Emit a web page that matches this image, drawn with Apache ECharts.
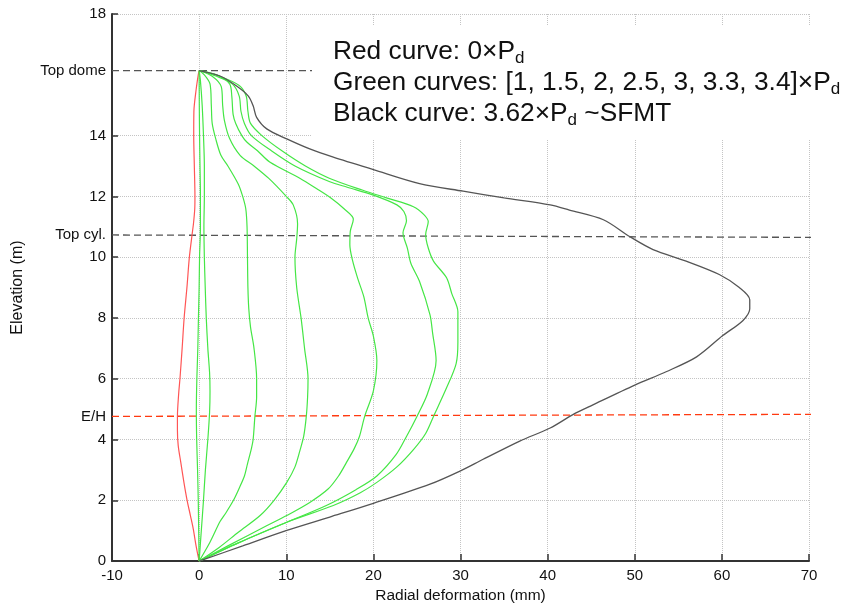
<!DOCTYPE html>
<html><head><meta charset="utf-8">
<script src="https://cdn.jsdelivr.net/npm/echarts@6/dist/echarts.min.js"></script>
<style>html,body{margin:0;padding:0;background:#fff}#c{width:846px;height:609px}</style>
</head><body><div id="c"></div>
<script>
// ---- data: [radial deformation (mm), elevation (m)] ----
const redCurve = [[0,0],[-0.35,0.5],[-0.68,1.07],[-1.0,1.5],[-1.38,2.0],[-1.75,2.6],[-2.1,3.24],[-2.4,3.8],[-2.49,4.3],[-2.49,4.76],[-2.35,5.5],[-2.2,6.0],[-1.95,7.0],[-1.72,8.0],[-1.4,9.0],[-1.12,10.0],[-0.8,10.76],[-0.65,11.1],[-0.5,11.6],[-0.48,12.0],[-0.55,13.0],[-0.62,14.0],[-0.6,14.8],[-0.35,15.5],[-0.1,16.0],[0,16.14]];
const green10 = [[0,0],[-0.05,1],[-0.1,2],[-0.18,3],[-0.28,4],[-0.32,5],[-0.26,6],[-0.15,7],[-0.08,8],[0,9],[0.05,10],[0.15,11],[0.15,12],[0.1,13],[0.05,14],[0.02,15],[0,16.14]];
const green15 = [[0,0],[0.25,1],[0.5,2],[0.72,3],[1.0,4],[1.2,4.9],[1.25,5.6],[1.2,6.2],[1.0,7],[0.82,8],[0.7,9],[0.6,10],[0.55,11],[0.6,12],[0.6,13],[0.5,14],[0.35,15],[0.15,15.8],[0,16.14]];
const green20 = [[0,0],[1.26,0.63],[2.4,1.3],[3.1,1.6],[3.94,2.0],[4.6,2.4],[5.2,2.8],[5.55,3.2],[6.0,3.7],[6.2,4.0],[6.4,4.76],[6.6,5.4],[6.6,6.0],[6.3,7.0],[5.9,7.7],[5.7,8.3],[5.6,9.0],[5.55,10.0],[5.5,11.0],[5.35,11.6],[5.0,12.0],[4.5,12.4],[3.3,13.0],[2.5,13.35],[1.9,13.9],[1.5,14.4],[1.4,15.0],[1.25,15.7],[0.6,16.0],[0,16.14]];
const green25 = [[0,0],[2.3,0.45],[4.5,0.95],[7.0,1.5],[8.6,2.0],[10.06,2.59],[11.0,3.1],[11.6,3.67],[12.0,4.1],[12.3,4.76],[12.45,5.4],[12.5,6.0],[12.1,7.0],[11.7,8.0],[11.2,9.0],[11.0,10.0],[11.2,10.6],[11.3,11.1],[10.8,11.72],[10.0,12.0],[8.0,12.59],[6.3,13.0],[4.7,13.35],[3.5,13.9],[2.9,14.5],[2.7,15.0],[2.55,15.6],[1.5,15.95],[0,16.14]];
const green30 = [[0,0],[3.3,0.5],[7.8,1.17],[10.06,1.5],[12.7,1.93],[14.8,2.37],[16.0,2.8],[16.9,3.24],[17.8,3.7],[18.4,4.1],[19.0,4.76],[20.0,5.6],[20.4,6.6],[20.0,7.4],[19.4,8.0],[18.9,8.7],[18.2,9.3],[17.6,9.9],[17.3,10.4],[17.35,10.85],[17.7,11.25],[16.6,11.6],[15.2,11.93],[13.5,12.25],[11.6,12.59],[8.1,13.13],[6.7,13.5],[5.5,13.78],[4.9,14.0],[4.2,14.4],[3.9,14.7],[3.75,15.3],[3.5,15.7],[2.0,16.0],[0,16.14]];
const green33 = [[0,0],[4.5,0.6],[10.06,1.28],[14.6,1.83],[18.0,2.35],[20.4,2.8],[22.6,3.5],[23.8,4.1],[25.0,4.76],[26.2,5.5],[27.2,6.6],[26.8,7.5],[26.5,8.1],[25.3,9.2],[24.3,9.8],[23.9,10.3],[23.4,10.8],[23.8,11.2],[23.5,11.5],[22.7,11.72],[20.0,12.04],[17.0,12.3],[15.0,12.48],[11.0,13.0],[8.3,13.5],[6.0,14.0],[5.2,14.4],[4.8,14.8],[4.6,15.3],[3.8,15.7],[2.0,15.95],[0,16.14]];
const green34 = [[0,0],[4.5,0.6],[10.06,1.28],[15.4,1.83],[18.5,2.25],[20.4,2.59],[22.7,3.1],[24.6,3.67],[26.0,4.2],[26.9,4.76],[28.4,5.7],[29.5,6.5],[29.7,7.2],[29.7,8.2],[29.0,8.8],[28.4,9.32],[26.9,9.87],[26.3,10.3],[26.0,10.74],[26.3,11.17],[25.8,11.4],[24.6,11.66],[21.5,11.95],[18.8,12.2],[15.0,12.59],[12.2,13.0],[9.5,13.5],[7.2,14.0],[5.9,14.4],[5.6,14.8],[5.4,15.3],[4.6,15.65],[2.2,15.97],[0,16.14]];
const blackCurve = [[0,0],[5,0.5],[10.06,1.01],[15,1.45],[20,1.9],[26.5,2.53],[30,2.97],[32.6,3.35],[36.8,3.95],[40.3,4.38],[42.9,4.82],[45.2,5.14],[50,5.79],[53.6,6.23],[57.1,6.72],[60.1,7.42],[62.4,7.91],[63.2,8.3],[63.2,8.6],[62.0,9.0],[59.7,9.43],[55.9,9.87],[52.1,10.25],[49.4,10.68],[46.4,11.23],[42.5,11.55],[40.3,11.72],[35,11.95],[30.3,12.17],[25.3,12.42],[20,12.88],[15.4,13.29],[12.7,13.56],[10.06,13.89],[7.76,14.22],[6.6,14.6],[6.2,14.98],[5.65,15.3],[4.3,15.63],[2.4,15.96],[0,16.14]];

// reference levels
const refNames = ['Top dome', 'Top cyl.', 'E/H'];
const refElevStart = [16.14, 10.73, 4.76];
const refElevEnd = [16.14, 10.65, 4.83];
const refXStart = [-10, -10, -10];
const refXEnd = [20, 70.7, 72.2];
const refColors = ['#555555', '#555555', '#ff3a10'];

// axes
const xMin = -10, xMax = 70, xStep = 10;
const yMin = 0, yMax = 18, yStep = 2;
const yTickValues = [0, 2, 4, 6, 8, 10, 12, 14, 18];

const legendLines = [
  ['Red curve: 0\u00d7P', 'd', ''],
  ['Green curves: [1, 1.5, 2, 2.5, 3, 3.3, 3.4]\u00d7P', 'd', ''],
  ['Black curve: 3.62\u00d7P', 'd', ' ~SFMT']
];

const FONT = '"Liberation Sans", Arial, Helvetica, sans-serif';
const GREEN = '#45e645';

function curve(name, data, color, w) {
  return { type: 'line', name: name, data: data, showSymbol: false, symbol: 'none',
    smooth: 0.3, silent: true, z: 3,
    lineStyle: { color: color, width: w || 1.2 } };
}

const series = [];
refNames.forEach(function (n, i) {
  series.push({ type: 'line', name: n, clip: false, showSymbol: false, symbol: 'none', silent: true, z: 2,
    data: [[refXStart[i], refElevStart[i]], [refXEnd[i], refElevEnd[i]]],
    lineStyle: { color: refColors[i], width: 1.3, type: [7, 4] } });
});
series.push(curve('0xPd', redCurve, '#ff5555'));
[green10, green15, green20, green25, green30, green33, green34].forEach(function (d, i) {
  series.push(curve('g' + i, d, GREEN));
});
series.push(curve('3.62xPd', blackCurve, '#555555', 1.3));

const labelValues = yTickValues.concat(refElevStart).sort(function (a, b) { return a - b; });

const legendText = legendLines.map(function (l) {
  return '{m|' + l[0] + '}{s|' + l[1] + '}' + (l[2] ? '{m|' + l[2] + '}' : '');
}).join('\n');

const chart = echarts.init(document.getElementById('c'), null, { renderer: 'canvas' });
chart.setOption({
  animation: false,
  backgroundColor: '#ffffff',
  textStyle: { fontFamily: FONT },
  title: {
    left: 312, top: 23, padding: [13, 6, 11, 21], backgroundColor: '#ffffff',
    text: legendText,
    textStyle: {
      rich: {
        m: { fontSize: 26.3, lineHeight: 31, fontFamily: FONT, color: '#111', fontWeight: 'normal' },
        s: { fontSize: 17, lineHeight: 14, verticalAlign: 'bottom', fontFamily: FONT, color: '#111', fontWeight: 'normal' }
      }
    }
  },
  grid: { left: 112, right: 37, top: 14, bottom: 43, containLabel: false },
  xAxis: {
    type: 'value', min: xMin, max: xMax, interval: xStep,
    name: 'Radial deformation (mm)', nameLocation: 'middle', nameGap: 23,
    nameTextStyle: { fontSize: 15.5, color: '#111', fontFamily: FONT },
    axisLine: { onZero: false, lineStyle: { color: '#333', width: 2 } },
    axisTick: { inside: true, length: 7, lineStyle: { color: '#333', width: 1.5 } },
    axisLabel: { fontSize: 15, color: '#111', margin: 7, fontFamily: FONT },
    splitLine: { show: true, lineStyle: { type: 'dotted', color: '#c4c4c4', width: 1 } }
  },
  yAxis: {
    type: 'value', min: yMin, max: yMax, interval: yStep,
    name: 'Elevation (m)', nameLocation: 'middle', nameGap: 86, nameRotate: 90,
    nameTextStyle: { fontSize: 16, color: '#111', fontFamily: FONT },
    axisLine: { onZero: false, lineStyle: { color: '#333', width: 2 } },
    axisTick: { inside: true, length: 6, customValues: yTickValues, lineStyle: { color: '#333', width: 1.5 } },
    axisLabel: {
      fontSize: 15, color: '#111', margin: 6, fontFamily: FONT,
      customValues: labelValues,
      formatter: function (v) {
        const i = refElevStart.indexOf(v);
        return i >= 0 ? refNames[i] : String(v);
      }
    },
    splitLine: { show: true, lineStyle: { type: 'dotted', color: '#c4c4c4', width: 1 } }
  },
  series: series
});
</script>
</body></html>
